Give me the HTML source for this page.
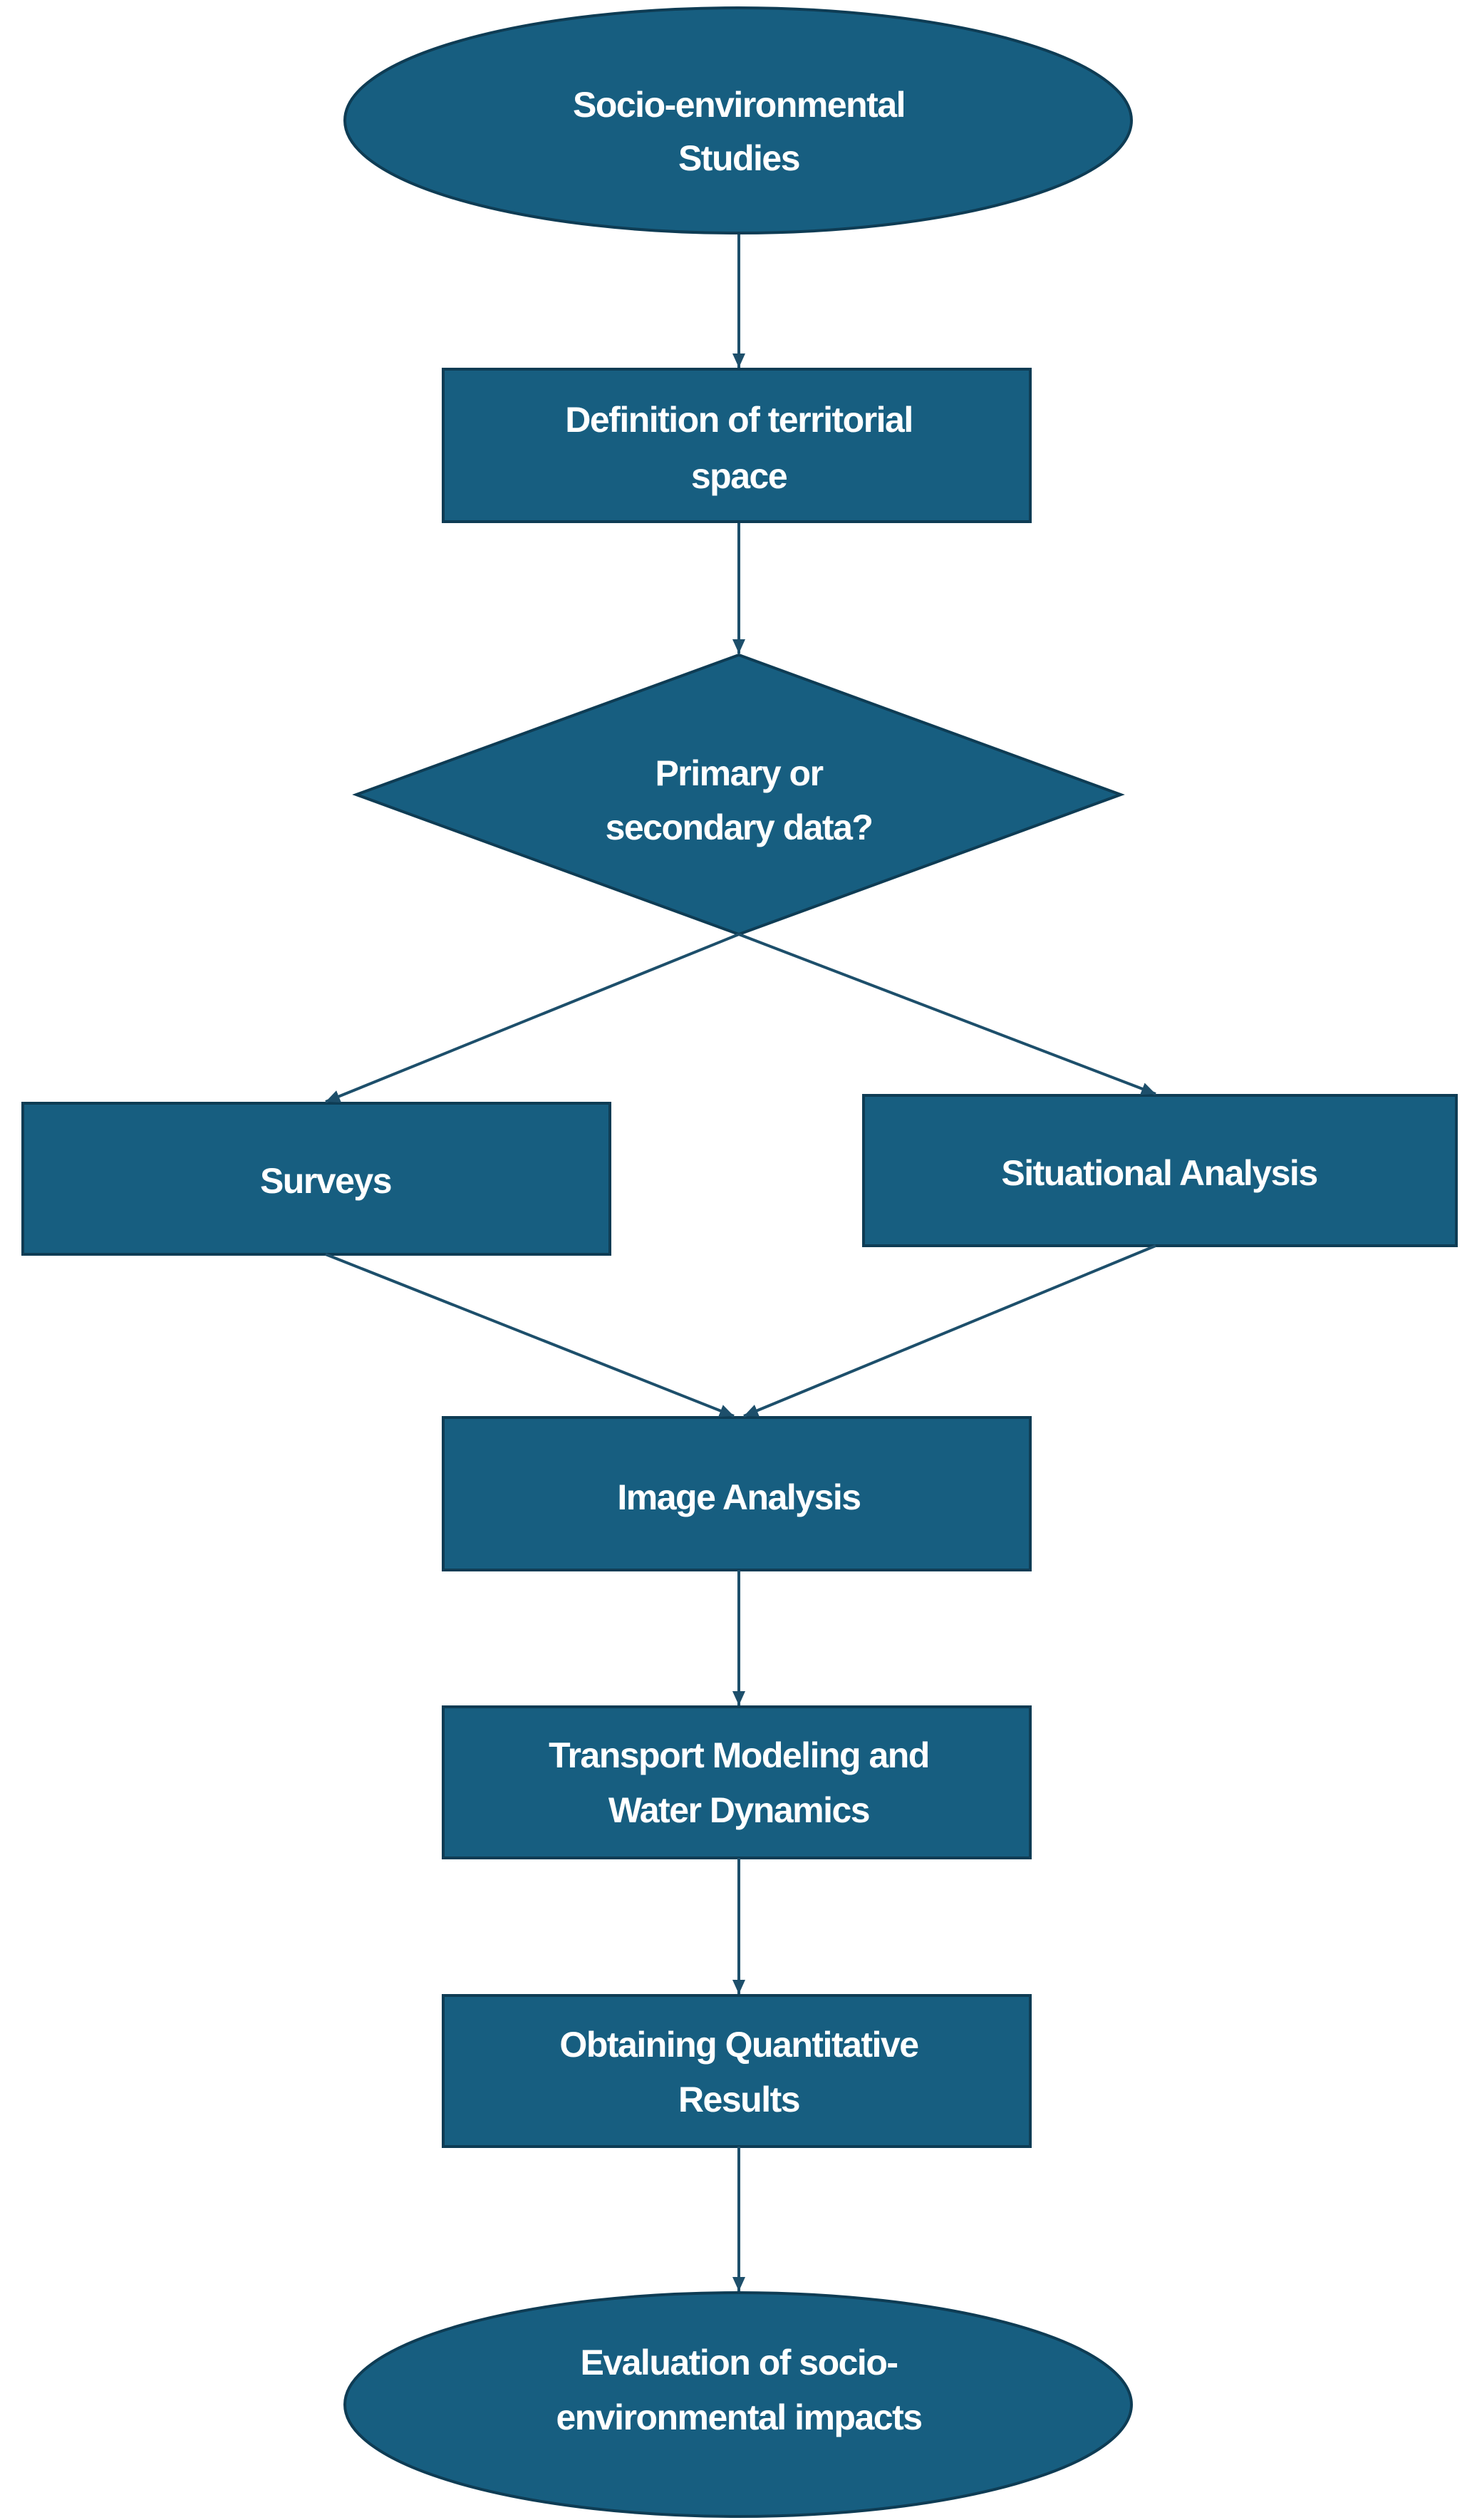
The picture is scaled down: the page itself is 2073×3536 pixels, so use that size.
<!DOCTYPE html>
<html><head><meta charset="utf-8"><style>
html,body{margin:0;padding:0;background:#fff;}
svg{display:block;}
text{font-family:"Liberation Sans",sans-serif;font-weight:bold;font-size:50px;fill:#fff;text-anchor:middle;letter-spacing:-1.5px;}
</style></head><body>
<svg width="2073" height="3536" viewBox="0 0 2073 3536" xmlns="http://www.w3.org/2000/svg">
<defs><marker id="a" markerWidth="10" markerHeight="10" refX="8" refY="5" orient="auto" markerUnits="userSpaceOnUse"><path d="M0,0 L10,5 L0,10 z" fill="#1d4f6b"/></marker>
<marker id="b" markerWidth="22" markerHeight="22" refX="20" refY="11" orient="auto" markerUnits="userSpaceOnUse"><path d="M0,2 L20,11 L0,20 z" fill="#1d4f6b"/></marker></defs>
<g fill="#175e80" stroke="#0e3c54" stroke-width="4">
<ellipse cx="1036" cy="169" rx="552" ry="158"/>
<rect x="622" y="518" width="824" height="214"/>
<polygon points="1037,919 1573,1115 1037,1311 500,1115"/>
<rect x="32" y="1548" width="824" height="212"/>
<rect x="1212" y="1537" width="832" height="211"/>
<rect x="622" y="1989" width="824" height="214"/>
<rect x="622" y="2395" width="824" height="212"/>
<rect x="622" y="2800" width="824" height="212"/>
<ellipse cx="1036" cy="3374" rx="552" ry="157"/>
</g>
<g stroke="#1d4f6b" stroke-width="4" fill="none" marker-end="url(#b)">
<line x1="1037" y1="329" x2="1037" y2="516"/>
<line x1="1037" y1="734" x2="1037" y2="917"/>
<line x1="1037" y1="1311" x2="457" y2="1546"/>
<line x1="1037" y1="1311" x2="1622" y2="1535"/>
<line x1="457" y1="1760" x2="1030" y2="1987"/>
<line x1="1622" y1="1748" x2="1044" y2="1987"/>
<line x1="1037" y1="2203" x2="1037" y2="2393"/>
<line x1="1037" y1="2607" x2="1037" y2="2798"/>
<line x1="1037" y1="3012" x2="1037" y2="3215"/>
</g>
<text x="1037" y="164">Socio-environmental</text>
<text x="1037" y="239">Studies</text>
<text x="1037" y="606">Definition of territorial</text>
<text x="1037" y="685">space</text>
<text x="1037" y="1102">Primary or</text>
<text x="1037" y="1178">secondary data?</text>
<text x="457" y="1674">Surveys</text>
<text x="1627" y="1663">Situational Analysis</text>
<text x="1037" y="2118">Image Analysis</text>
<text x="1037" y="2480">Transport Modeling and</text>
<text x="1037" y="2557">Water Dynamics</text>
<text x="1037" y="2886">Obtaining Quantitative</text>
<text x="1037" y="2963">Results</text>
<text x="1037" y="3332">Evaluation of socio-</text>
<text x="1037" y="3409">environmental impacts</text>
</svg>
</body></html>
